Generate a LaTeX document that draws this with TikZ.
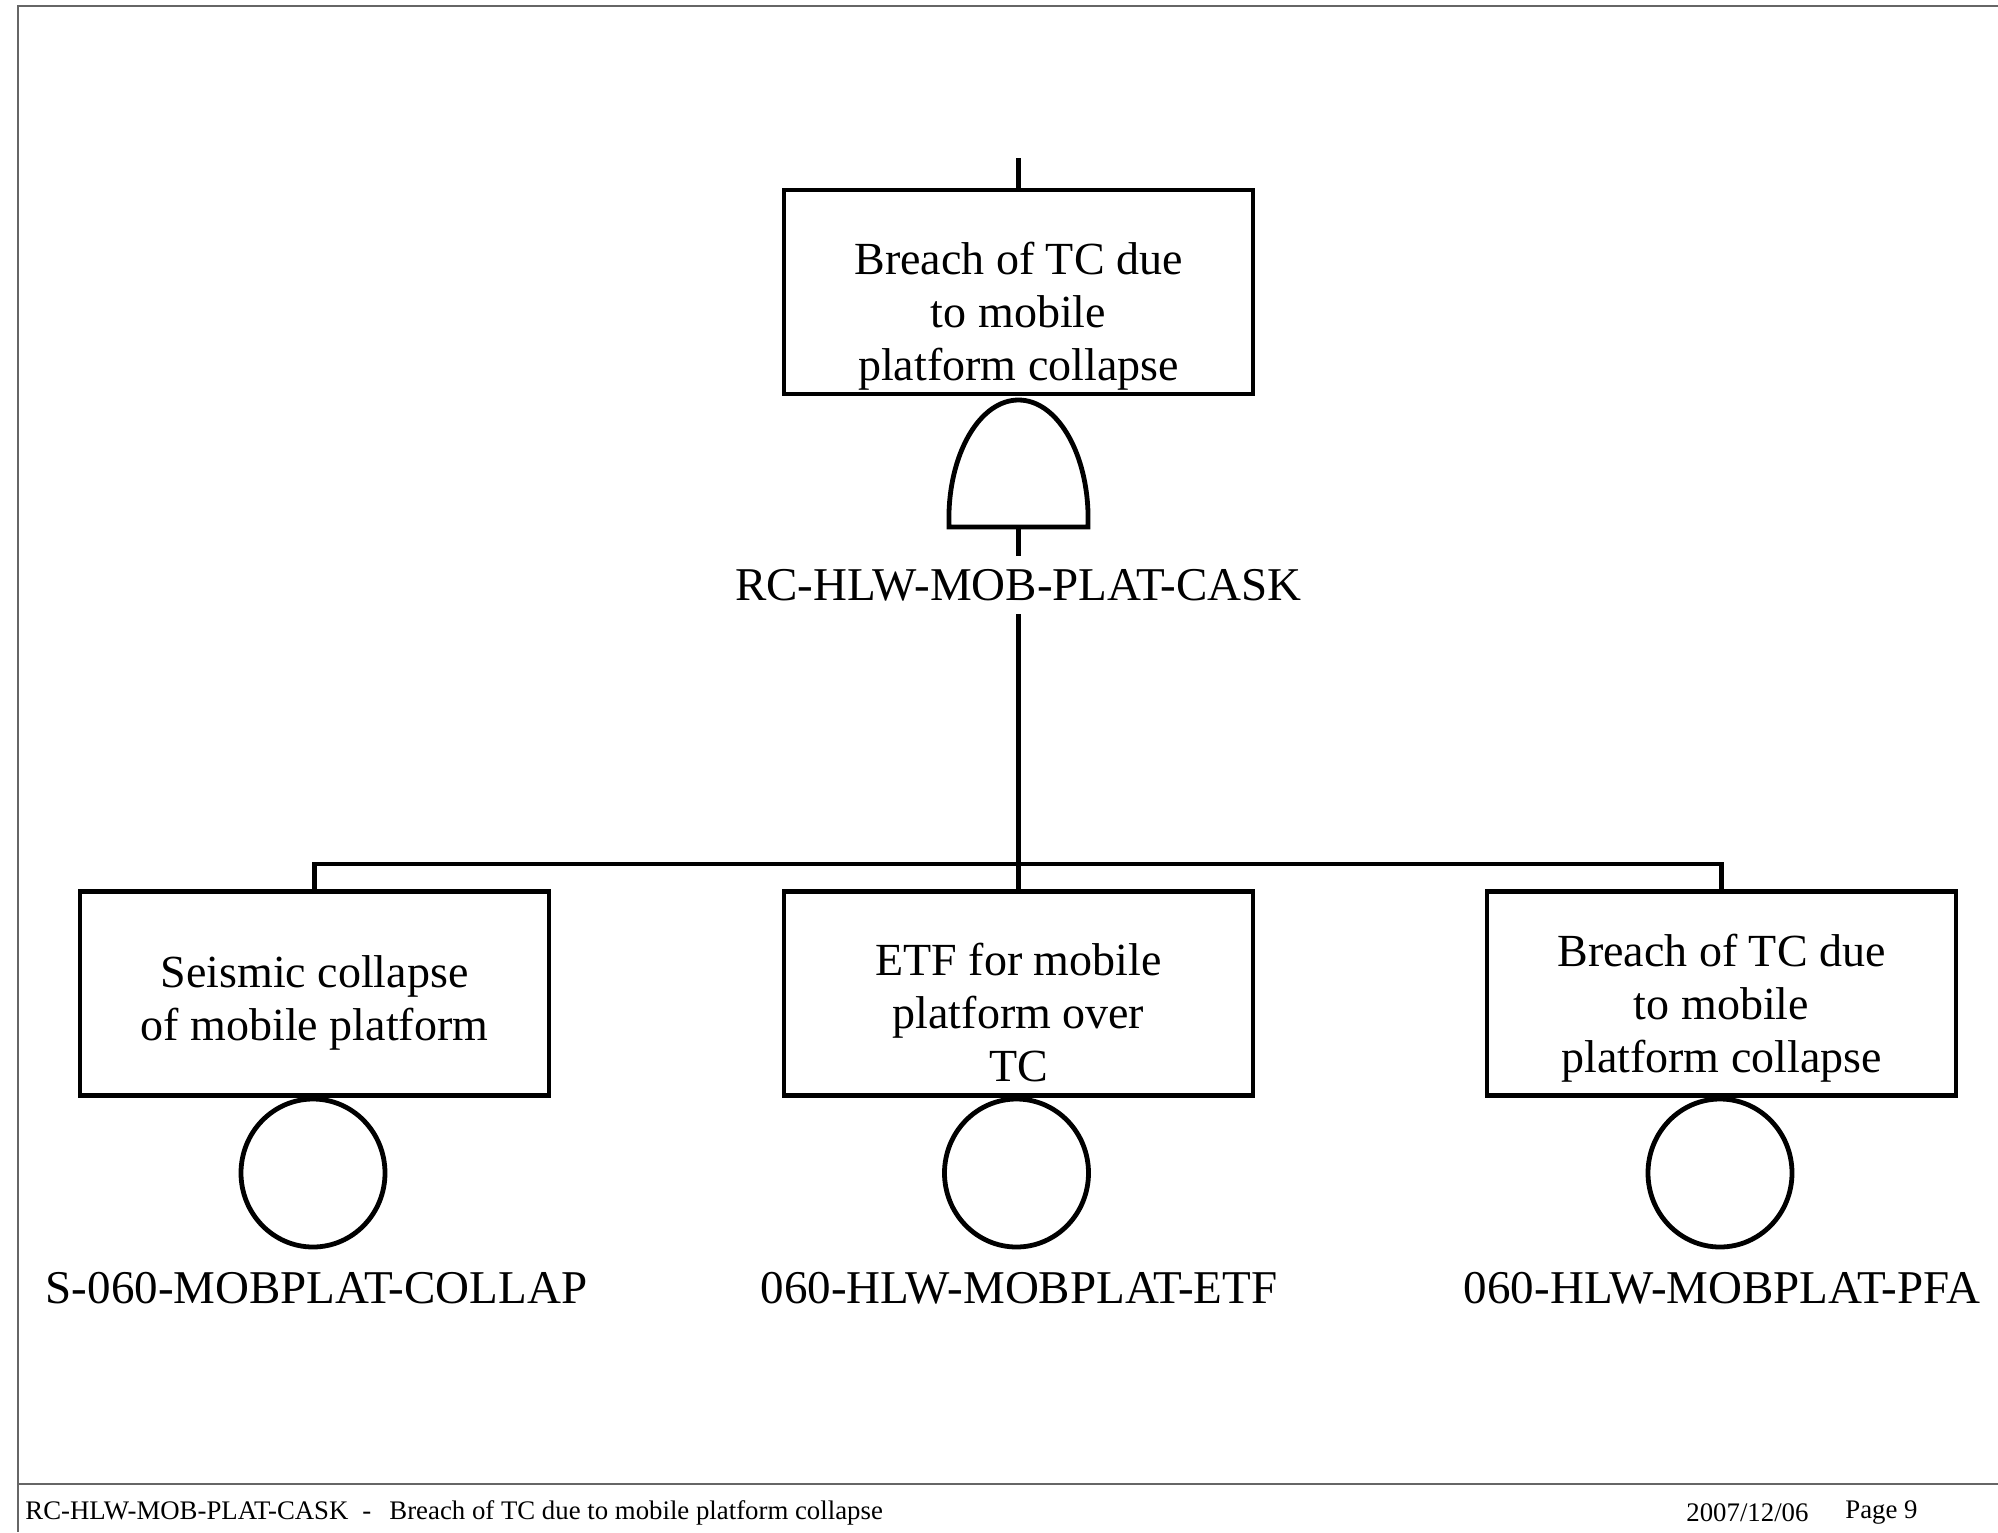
\documentclass[tikz,border=0pt]{standalone}
\usepackage{fontspec}
\setmainfont{Liberation Serif}
\usetikzlibrary{shapes.geometric}
\begin{document}
\begin{tikzpicture}[x=0.5pt,y=-0.5pt,
  evbox/.style={draw, line width=2.4pt, minimum width=234.5pt, minimum height=102pt, inner sep=0pt},
  evtext/.style={align=center, font=\fontsize{23}{26.5}\selectfont, inner sep=0pt},
  lbl/.style={font=\fontsize{23.5}{26.5}\selectfont, inner xsep=0pt, inner ysep=6.4pt},
  basicev/.style={draw, line width=2.4pt, ellipse, minimum width=72pt, minimum height=74pt, inner sep=0pt},
  conn/.style={line width=2.4pt},
  frame/.style={draw=black!60, line width=1pt},
  foot/.style={font=\fontsize{13.4}{15}\selectfont, inner sep=0pt}]
\useasboundingbox (0,0) rectangle (1998,1532);
% page frame
\draw[frame] (1998,6) -- (18,6) -- (18,1532);
\draw[frame] (18,1484) -- (1998,1484);
% top event
\coordinate (topin) at (1018.5,158);
\node[evbox] (top) at (1018.5,292) {};
\node[evtext] (toptext) at (1018.5,316) {Breach of TC due\\to mobile\\platform collapse};
\draw[conn] (topin) -- (top.north);
% AND gate
\coordinate (gatebot) at (1018.5,527);
\draw[conn] (949,527) -- (949,512) .. controls (951,450) and (981,400) .. (1018.5,400)
  .. controls (1056,400) and (1086,450) .. (1088,512) -- (1088,527) -- cycle;
\node[lbl] (toplbl) at (1018.5,585) {RC-HLW-MOB-PLAT-CASK};
\draw[conn] (gatebot) -- (toplbl.north);
\coordinate (j) at (1018.5,864);
\draw[conn] (toplbl.south) -- (j);
% bottom events
\node[evbox] (lbox) at (314.5,993.5) {};
\node[evbox] (mbox) at (1018.5,993.5) {};
\node[evbox] (rbox) at (1721.5,993.5) {};
\node[evtext] (ltext) at (314.5,1003) {Seismic collapse\\of mobile platform};
\node[evtext] (mtext) at (1018.5,1013) {ETF for mobile\\platform over\\TC};
\node[evtext] (rtext) at (1721.5,1008) {Breach of TC due\\to mobile\\platform collapse};
\draw[conn] (lbox.north) |- (j) -| (rbox.north);
\draw[conn] (j) -- (mbox.north);
% basic events
\node[basicev] (lc) at (313,1173) {};
\node[basicev] (mc) at (1016.5,1173) {};
\node[basicev] (rc) at (1720,1173) {};
\node[lbl] (ll) at (316.5,1288) {S-060-MOBPLAT-COLLAP};
\node[lbl] (ml) at (1019,1288) {060-HLW-MOBPLAT-ETF};
\node[lbl] (rl) at (1722,1288) {060-HLW-MOBPLAT-PFA};
% footer
\node[foot, anchor=west] (fl) at (25,1513) {RC-HLW-MOB-PLAT-CASK\hspace{7pt}-\hspace{9pt}Breach of TC due to mobile platform collapse};
\node[foot, anchor=west] (fd) at (1686,1513) {2007/12/06};
\node[foot, anchor=east] (fp) at (1918,1513) {Page 9};
\end{tikzpicture}
\end{document}
